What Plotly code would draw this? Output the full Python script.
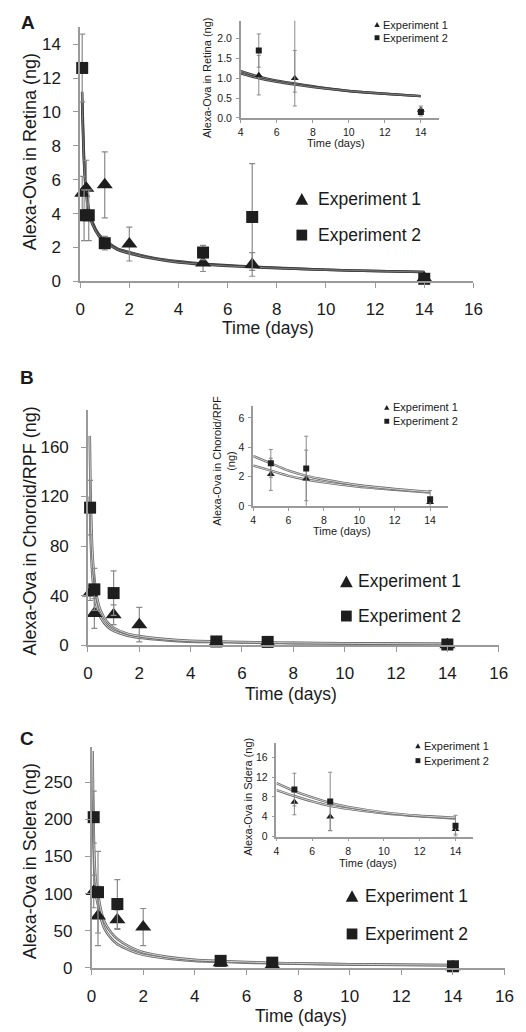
import plotly.graph_objects as go

W, H = 526, 1032

# ---------------- data ----------------
# Panel A: retina
a_t1 = [0.083, 0.25, 1, 2, 5, 7, 14]
a_v1 = [5.2, 5.5, 5.7, 2.2, 1.08, 1.0, 0.2]
a_e1 = [1.0, 1.65, 1.95, 1.0, 0.5, 0.7, 0.1]
a_t2 = [0.083, 0.16, 0.35, 1, 5, 7, 14]
a_v2 = [12.6, 3.9, 3.9, 2.25, 1.7, 3.8, 0.15]
a_e2 = [2.0, 1.5, 1.5, 0.4, 0.42, 3.15, 0.1]
a_ct = [0.08, 0.1, 0.15, 0.2, 0.25, 0.35, 0.5, 0.75, 1, 1.5, 2, 3, 4, 5, 6, 7, 8, 10, 12, 14]
a_c1 = [11.2, 10.0, 7.6, 6.2, 5.4, 4.3, 3.5, 2.8, 2.45, 1.95, 1.72, 1.38, 1.18, 1.04, 0.94, 0.87, 0.8, 0.68, 0.61, 0.55]
a_c2 = [10.6, 9.5, 7.2, 5.9, 5.1, 4.1, 3.35, 2.7, 2.35, 1.88, 1.65, 1.33, 1.12, 1.0, 0.91, 0.84, 0.78, 0.68, 0.61, 0.55]

# Panel B: choroid/RPF
b_t1 = [0.083, 0.25, 1, 2, 5, 7, 14]
b_v1 = [42, 25.5, 24.5, 16.5, 2.15, 1.85, 0.25]
b_e1 = [6, 12, 8, 14, 1.1, 1.95, 0.1]
b_t2 = [0.083, 0.25, 1, 5, 7, 14]
b_v2 = [111, 45, 42, 2.9, 2.55, 0.45]
b_e2 = [22, 17, 18, 0.95, 2.2, 0.6]
b_ct = [0.07, 0.1, 0.15, 0.2, 0.3, 0.4, 0.5, 0.75, 1, 1.5, 2, 3, 4, 5, 6, 7, 8, 10, 12, 14]
b_c2 = [169, 125, 86, 66, 45, 34, 27.5, 18.5, 14, 9.4, 7.2, 4.8, 3.4, 2.9, 2.4, 2.05, 1.8, 1.4, 1.15, 0.95]
b_c1 = [120, 90, 64, 50, 35, 27, 22, 15, 11.5, 7.8, 6.0, 4.0, 2.75, 2.4, 2.05, 1.8, 1.6, 1.3, 1.1, 0.9]

# Panel C: sclera
c_t1 = [0.083, 0.25, 1, 2, 5, 7, 14]
c_v1 = [103, 70, 65, 55, 7, 4, 1.5]
c_e1 = [22, 40, 13, 25, 2.6, 2.8, 1.0]
c_t2 = [0.083, 0.25, 1, 5, 7, 14]
c_v2 = [203, 102, 86, 9.5, 7.1, 2.2]
c_e2 = [35, 55, 33, 3.3, 5.9, 2.1]
c_ct = [0.04, 0.06, 0.083, 0.12, 0.17, 0.25, 0.35, 0.5, 0.75, 1, 1.5, 2, 3, 4, 5, 6, 7, 8, 10, 12, 14]
c_c2 = [292, 230, 185, 140, 115, 100, 80, 62, 48, 39, 28, 21, 14.5, 10.8, 9.2, 7.9, 6.8, 6.0, 4.9, 4.2, 3.8]
c_c1 = [250, 195, 160, 120, 98, 85, 68, 53, 40, 32, 23.5, 17.6, 12.5, 9.4, 8.2, 7.1, 6.2, 5.6, 4.7, 4.1, 3.65]

x_ticks_main = [0, 2, 4, 6, 8, 10, 12, 14, 16]
x_ticks_inset = [4, 6, 8, 10, 12, 14]
series_names = ["Experiment 1", "Experiment 2"]

FONT = "Liberation Sans, Arial, sans-serif"
MK = "#1e1e1e"
ERR = "#8a8a8a"
AX = "#9a9a9a"
TXT = "#1a1a1a"

fig = go.Figure()


def px_x(p):
    return p / W


def px_y(p):
    return 1 - p / H


def add_curves(ct, c1, c2, xa, ya, inset, dark):
    tt = [t for t in ct if (t >= 4 or not inset)]
    for c in (c1, c2):
        vv = [v for t, v in zip(ct, c) if (t >= 4 or not inset)]
        outer = "#3c3c3c" if dark else "#6a6a6a"
        inner = "#9a9a9a" if dark else "#ffffff"
        w = 2.6 if not inset else 2.4
        fig.add_trace(go.Scatter(x=tt, y=vv, mode="lines", xaxis=xa, yaxis=ya,
                                 line=dict(color=outer, width=w, shape="spline", smoothing=0.6),
                                 showlegend=False, hoverinfo="skip"))
        fig.add_trace(go.Scatter(x=tt, y=vv, mode="lines", xaxis=xa, yaxis=ya,
                                 line=dict(color=inner, width=0.7, shape="spline", smoothing=0.6),
                                 showlegend=False, hoverinfo="skip"))


def add_points(t, v, e, sym, name, xa, ya, inset):
    if inset:
        idx = [i for i, tv in enumerate(t) if tv >= 4]
        t = [t[i] for i in idx]
        v = [v[i] for i in idx]
        e = [e[i] for i in idx]
    size = (6 if sym == "square" else 7) if inset else (12 if sym == "square" else 14)
    fig.add_trace(go.Scatter(
        x=t, y=v, mode="markers", name=name, xaxis=xa, yaxis=ya,
        marker=dict(symbol=sym, size=size, color=MK, line=dict(width=0)),
        error_y=dict(type="data", array=e, visible=True, color=ERR,
                     thickness=1.2 if not inset else 1.0, width=3 if not inset else 2),
        cliponaxis=inset, showlegend=False))


panels = [
    (a_t1, a_v1, a_e1, a_t2, a_v2, a_e2, a_ct, a_c1, a_c2, 1, 2, True),
    (b_t1, b_v1, b_e1, b_t2, b_v2, b_e2, b_ct, b_c1, b_c2, 3, 4, False),
    (c_t1, c_v1, c_e1, c_t2, c_v2, c_e2, c_ct, c_c1, c_c2, 5, 6, False),
]

for k, (t1, v1, e1, t2, v2, e2, ct, c1, c2, mi, ii, dark) in enumerate(panels):
    mx, my = ("x" if mi == 1 else f"x{mi}"), ("y" if mi == 1 else f"y{mi}")
    ix, iy = f"x{ii}", f"y{ii}"
    add_curves(ct, c1, c2, mx, my, False, dark)
    add_curves(ct, c1, c2, ix, iy, True, dark)
    add_points(t1, v1, e1, "triangle-up", series_names[0], mx, my, False)
    add_points(t2, v2, e2, "square", series_names[1], mx, my, False)
    add_points(t1, v1, e1, "triangle-up", series_names[0], ix, iy, True)
    add_points(t2, v2, e2, "square", series_names[1], ix, iy, True)


def axis_common(size, ticklen):
    return dict(showline=True, linecolor=AX, linewidth=1.5, showgrid=False, zeroline=False,
                ticks="outside", ticklen=ticklen, tickwidth=1, tickcolor=AX,
                tickfont=dict(family=FONT, size=size, color=TXT), mirror=False)


main_specs = [
    (1, (69, 473), (276, 19.5), [0, 15], [0, 2, 4, 6, 8, 10, 12, 14]),
    (3, (77, 499), (643.3, 405.8), [0, 190], [0, 40, 80, 120, 160]),
    (5, (80.7, 505), (969.3, 746.6), [0, 297], [0, 50, 100, 150, 200, 250]),
]
inset_specs = [
    (2, (234, 437.5), (111, 13), [0, 2.45], [0, 0.5, 1.0, 1.5, 2.0], ".1f"),
    (4, (246.7, 446.7), (502.7, 402.1), [0, 6.8], [0, 2, 4, 6], ""),
    (6, (270.7, 473), (836.7, 741.7), [0, 19], [0, 4, 8, 12, 16], ""),
]

lay = {}
for (i, xp, (yb, yt), yr, yt_vals) in main_specs:
    xk = "xaxis" if i == 1 else f"xaxis{i}"
    yk = "yaxis" if i == 1 else f"yaxis{i}"
    ya = "y" if i == 1 else f"y{i}"
    xa = "x" if i == 1 else f"x{i}"
    lay[xk] = dict(domain=[px_x(xp[0]), px_x(xp[1])], range=[0, 16], tickvals=x_ticks_main,
                   anchor=ya, ticklabelstandoff=7, **axis_common(17, 5))
    lay[yk] = dict(domain=[px_y(yb), px_y(yt)], range=yr, tickvals=yt_vals, anchor=xa,
                   ticklabelstandoff=9, **axis_common(17, 5))

for (i, xp, (yb, yt), yr, yt_vals, fmt) in inset_specs:
    lay[f"xaxis{i}"] = dict(domain=[px_x(xp[0]), px_x(xp[1])], range=[4, 15], tickvals=x_ticks_inset,
                            anchor=f"y{i}", ticklabelstandoff=1, **axis_common(10.5, 3))
    lay[f"yaxis{i}"] = dict(domain=[px_y(yb), px_y(yt)], range=yr, tickvals=yt_vals, tickformat=fmt,
                            anchor=f"x{i}", ticklabelstandoff=2, **axis_common(10.5, 3))

fig.update_layout(width=W, height=H, margin=dict(l=0, r=0, t=0, b=0),
                  paper_bgcolor="white", plot_bgcolor="rgba(0,0,0,0)", showlegend=False,
                  font=dict(family=FONT, color=TXT), **lay)


def ann(text, x, y, size, angle=0, bold=False, xanchor="center"):
    fig.add_annotation(text=f"<b>{text}</b>" if bold else text, x=px_x(x), y=px_y(y),
                       xref="paper", yref="paper", showarrow=False, textangle=angle,
                       xanchor=xanchor, yanchor="middle",
                       font=dict(family=FONT, size=size, color=TXT))


def tri(cx, cy, w, h):
    p = f"M {px_x(cx - w / 2)},{px_y(cy + h / 2)} L {px_x(cx + w / 2)},{px_y(cy + h / 2)} L {px_x(cx)},{px_y(cy - h / 2)} Z"
    fig.add_shape(type="path", path=p, xref="paper", yref="paper", fillcolor=MK, line=dict(width=0))


def sq(cx, cy, s):
    fig.add_shape(type="rect", x0=px_x(cx - s / 2), x1=px_x(cx + s / 2), y0=px_y(cy + s / 2),
                  y1=px_y(cy - s / 2), xref="paper", yref="paper", fillcolor=MK, line=dict(width=0))


# legends (symbol + text)
legend_specs = [
    (296.7, 192.7, 229.3, 311, 17.5, 13, 11),
    (342.5, 579, 614, 352, 17.5, 13, 11),
    (348.3, 896.7, 935, 360, 17.5, 13, 11),
    (374, 16.7, 30, 378, 11, 5.5, 5),
    (384, 403.3, 417.3, 388, 11, 5.5, 5),
    (416, 745, 760, 420, 11, 5.5, 5),
]
for (sx, y1, y2, tx, fs, tw, ss) in legend_specs:
    tri(sx, y1, tw, tw * 0.9)
    sq(sx, y2, ss)
    ann(series_names[0], tx, y1, fs, xanchor="left")
    ann(series_names[1], tx, y2, fs, xanchor="left")

ann("A", 15, 15, 19, bold=True)
ann("B", 14, 373, 19, bold=True)
ann("C", 14, 738, 19, bold=True)
ann("Alexa-Ova in Retina (ng)", 17, 145, 18, -90)
ann("Alexa-Ova in Choroid/RPF (ng)", 17, 528, 18, -90)
ann("Alexa-Ova in Sclera (ng)", 17, 862, 18, -90)
ann("Time (days)", 262, 323, 17.5)
ann("Time (days)", 286, 693, 17.5)
ann("Time (days)", 296, 1018, 17.5)
ann("Alexa-Ova in Retina (ng)", 200, 71, 11, -90)
ann("Alexa-Ova in Choroid/RPF<br>(ng)", 216, 457, 11, -90)
ann("Alexa-Ova in Sdera (ng)", 242, 797, 11, -90)
ann("Time (days)", 332, 136, 11)
ann("Time (days)", 338, 528, 11)
ann("Time (days)", 365, 863, 11)

fig.write_html("out.html")
